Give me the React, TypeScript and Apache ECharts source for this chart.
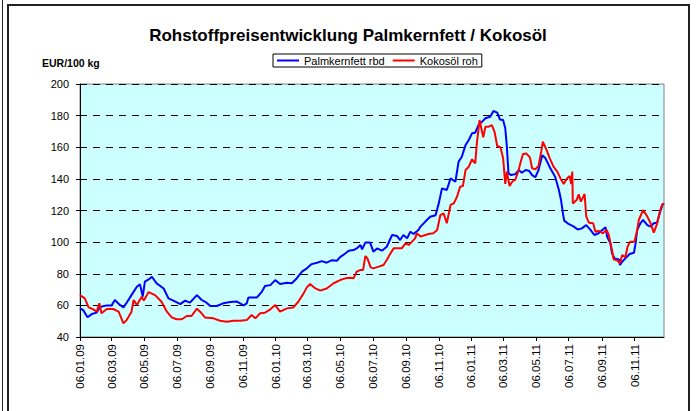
import React, { useEffect, useRef } from 'react';
import * as echarts from 'echarts';

const titleText = 'Rohstoffpreisentwicklung Palmkernfett / Kokosöl';
const unitText = 'EUR/100 kg';
const seriesNames = ['Palmkernfett rbd', 'Kokosöl roh'];

const palmDates = [
  '2009-01-06','2009-01-12','2009-01-20','2009-01-28','2009-02-06','2009-02-12','2009-02-25','2009-03-06','2009-03-12','2009-03-19',
  '2009-03-28','2009-04-03','2009-04-12','2009-04-22','2009-04-28','2009-05-03','2009-05-07','2009-05-14','2009-05-20','2009-05-29',
  '2009-06-11','2009-06-20','2009-06-29','2009-07-12','2009-07-21','2009-07-30','2009-08-12','2009-08-21','2009-08-30','2009-09-06',
  '2009-09-18','2009-09-30','2009-10-13','2009-10-25','2009-11-07','2009-11-13','2009-11-16','2009-12-02','2009-12-11','2009-12-17',
  '2009-12-27','2010-01-05','2010-01-14','2010-01-27','2010-02-05','2010-02-14','2010-02-24','2010-03-05','2010-03-14','2010-03-24',
  '2010-04-02','2010-04-11','2010-04-21','2010-04-30','2010-05-06','2010-05-12','2010-05-22','2010-05-31','2010-06-06','2010-06-13',
  '2010-06-16','2010-06-22','2010-07-01','2010-07-07','2010-07-14','2010-07-23','2010-08-01','2010-08-11','2010-08-20','2010-08-26',
  '2010-09-01','2010-09-08','2010-09-14','2010-09-20','2010-09-29','2010-10-03','2010-10-12','2010-10-21','2010-10-31','2010-11-06',
  '2010-11-12','2010-11-21','2010-11-28','2010-12-07','2010-12-13','2010-12-19','2010-12-26','2011-01-01','2011-01-07','2011-01-13',
  '2011-01-19','2011-01-26','2011-02-01','2011-02-10','2011-02-16','2011-02-23','2011-02-28','2011-03-06','2011-03-10','2011-03-13',
  '2011-03-16','2011-03-21','2011-03-29','2011-04-04','2011-04-10','2011-04-17','2011-04-23','2011-04-29','2011-05-05','2011-05-11',
  '2011-05-18','2011-05-24','2011-06-02','2011-06-11','2011-06-18','2011-06-22','2011-06-26','2011-06-28','2011-07-06','2011-07-16',
  '2011-07-23','2011-07-31','2011-08-08','2011-08-16','2011-08-23','2011-08-31','2011-09-07','2011-09-13','2011-09-16','2011-09-22',
  '2011-09-25','2011-09-30','2011-10-08','2011-10-10','2011-10-14','2011-10-20','2011-10-28','2011-11-05','2011-11-08','2011-11-11',
  '2011-11-17','2011-11-22','2011-11-30','2011-12-06','2011-12-12','2011-12-18','2011-12-23','2011-12-28','2011-12-31'
];
const palmValues = [
  58.1, 57, 52.5, 54.5, 55.4, 59, 60, 60, 63.4, 61,
  58.7, 61.7, 66.5, 71.8, 73.3, 65.5, 75, 76.4, 78.1, 73.9,
  70.7, 64.4, 63, 60.8, 63, 61.7, 66.5, 63.4, 61.7, 59.6,
  59.6, 61.3, 62.1, 62.5, 60, 61.3, 65, 65, 68.6, 72.2,
  72.8, 76, 73.5, 74.3, 74, 77, 81.3, 83.4, 86.1, 87,
  88, 87, 88.6, 88.2, 90.5, 91.9, 94.6, 95, 96, 98.2,
  95.4, 99.7, 99.7, 94, 96, 94.6, 97.1, 104.5, 103.9, 101.3,
  104.5, 102.4, 106.6, 105.1, 107.7, 109.8, 113, 116, 117, 124.5,
  134, 133, 140.3, 138.2, 150.9, 154, 161.4, 164.6, 168.8, 169.2,
  174, 176.2, 178.3, 179.3, 182.9, 181.9, 177.6, 177.2, 172, 160.4,
  143.5, 142.4, 143, 145.6, 143.9, 145.6, 145.2, 142.4, 141, 145.6,
  155, 153, 146.7, 141.4, 133, 126.6, 117.1, 113.6, 111.5, 109.8,
  108, 108.7, 110.8, 107.7, 104.5, 105.6, 107.7, 109.4, 103.4, 99.2,
  92.9, 89.7, 89.1, 85.5, 87.6, 89.7, 92.5, 93.3, 99.2, 107.7,
  111.9, 114, 110.8, 109.8, 111.9, 112.3, 118.2, 123.5, 124.5
];

const cocoDates = [
  '2009-01-06','2009-01-15','2009-01-22','2009-01-31','2009-02-06','2009-02-11','2009-02-15','2009-02-25','2009-03-09','2009-03-19',
  '2009-03-28','2009-04-03','2009-04-12','2009-04-16','2009-04-22','2009-05-01','2009-05-05','2009-05-14','2009-05-26','2009-06-07',
  '2009-06-17','2009-06-26','2009-07-05','2009-07-15','2009-07-24','2009-08-02','2009-08-12','2009-08-18','2009-08-27','2009-09-12',
  '2009-09-24','2009-10-07','2009-10-19','2009-11-01','2009-11-13','2009-11-22','2009-11-29','2009-12-08','2009-12-17','2009-12-27',
  '2010-01-05','2010-01-14','2010-01-27','2010-02-08','2010-02-17','2010-02-27','2010-03-05','2010-03-11','2010-03-21','2010-03-30',
  '2010-04-11','2010-04-24','2010-05-06','2010-05-16','2010-05-25','2010-05-31','2010-06-06','2010-06-13','2010-06-18','2010-06-22',
  '2010-06-26','2010-07-02','2010-07-07','2010-07-17','2010-07-26','2010-08-01','2010-08-08','2010-08-14','2010-08-21','2010-08-29',
  '2010-09-05','2010-09-11','2010-09-17','2010-09-23','2010-09-26','2010-10-03','2010-10-12','2010-10-18','2010-10-27','2010-11-03',
  '2010-11-09','2010-11-15','2010-11-21','2010-11-28','2010-12-04','2010-12-10','2010-12-16','2010-12-21','2010-12-26','2011-01-01',
  '2011-01-07','2011-01-13','2011-01-16','2011-01-21','2011-01-28','2011-02-01','2011-02-07','2011-02-13','2011-02-18','2011-02-23',
  '2011-03-01','2011-03-06','2011-03-10','2011-03-13','2011-03-18','2011-03-23','2011-03-29','2011-04-04','2011-04-07','2011-04-12',
  '2011-04-18','2011-04-25','2011-04-29','2011-05-05','2011-05-11','2011-05-16','2011-05-19','2011-05-26','2011-06-01','2011-06-08',
  '2011-06-15','2011-06-21','2011-06-27','2011-07-03','2011-07-08','2011-07-11','2011-07-13','2011-07-14','2011-07-21','2011-07-25',
  '2011-07-29','2011-08-05','2011-08-08','2011-08-13','2011-08-21','2011-08-25','2011-08-31','2011-09-08','2011-09-15','2011-09-19',
  '2011-09-25','2011-09-28','2011-10-05','2011-10-10','2011-10-14','2011-10-20','2011-10-24','2011-10-29','2011-11-06','2011-11-11',
  '2011-11-14','2011-11-22','2011-11-30','2011-12-06','2011-12-12','2011-12-18','2011-12-24','2011-12-28','2011-12-31'
];
const cocoValues = [
  66.5, 64.4, 58.7, 57.5, 56, 61.3, 55, 57.7, 57.7, 56,
  48.6, 50.7, 56, 63.4, 60.2, 65.5, 63, 68.4, 66.5, 62.3,
  56, 52.4, 51.2, 51.2, 53.3, 53.3, 57.9, 56, 52.4, 51.8,
  50.3, 49.7, 50.3, 50.3, 50.7, 53.9, 51.8, 55, 55.4, 57.5,
  60.2, 56, 58.1, 58.7, 62.3, 67.6, 71.4, 73.5, 70.7, 69.3,
  70.7, 74, 76, 77.1, 77.5, 77.1, 81.3, 82.4, 82.4, 91.2,
  89.7, 84, 83.4, 84.5, 85.5, 88.7, 92.9, 96.1, 96.1, 96.1,
  99.2, 98.2, 100.3, 102.4, 105.6, 103.5, 104.5, 105.1, 105.6, 107.7,
  117.1, 118.2, 111.9, 123.5, 124.5, 128.7, 135.1, 135.5, 145.6, 147.7,
  152.4, 149.8, 162.5, 177.2, 166.3, 173, 173, 174, 169.8, 160.8,
  160, 153, 136.8, 144.6, 135.5, 138.2, 139.7, 145.6, 149.8, 155.7,
  156.1, 153.6, 146.7, 146, 148.1, 157.2, 163.5, 158.3, 153, 147.7,
  144.6, 140.3, 136.8, 140.3, 141.8, 136.8, 144.6, 124.5, 126.6, 130.2,
  125.6, 130.4, 116.1, 112.3, 111.9, 106.6, 107.2, 105.6, 107.7, 104.5,
  95, 89.1, 88.3, 86.6, 91.9, 90.4, 97.1, 100.3, 100.3, 107.7,
  114, 120.3, 116.1, 111.9, 106, 111.5, 120.3, 124.1, 124.1
];

const xTickDates = [
  '2009-01-06','2009-03-06','2009-05-06','2009-07-06','2009-09-06','2009-11-06',
  '2010-01-06','2010-03-06','2010-05-06','2010-07-06','2010-09-06','2010-11-06',
  '2011-01-06','2011-03-06','2011-05-06','2011-07-06','2011-09-06','2011-11-06'
];
const xMin = '2009-01-06';
const xMax = '2011-12-31';
const yMin = 40;
const yMax = 200;
const yStep = 20;

const FONT = '"Liberation Sans", Arial, sans-serif';

function toTime(s: string): number {
  const [y, m, d] = s.split('-').map(Number);
  return Date.UTC(y, m - 1, d);
}
function pad(n: number): string {
  return n < 10 ? '0' + n : String(n);
}
function fmtDate(v: number): string {
  const d = new Date(v);
  return pad(d.getUTCDate()) + '.' + pad(d.getUTCMonth() + 1) + '.' + String(d.getUTCFullYear()).slice(2);
}

export default function App() {
  const ref = useRef<HTMLDivElement>(null);
  useEffect(() => {
    const chart = echarts.init(ref.current!, null, { renderer: 'svg' });
    const ticks = xTickDates.map(toTime);
    chart.setOption({
      animation: false,
      backgroundColor: '#ffffff',
      textStyle: { fontFamily: FONT },
      title: {
        text: titleText,
        left: 'center',
        top: 22,
        textStyle: { fontFamily: FONT, fontSize: 17, fontWeight: 'bold', color: '#000' }
      },
      legend: {
        data: seriesNames,
        top: 54,
        left: 273,
        icon: 'rect',
        itemWidth: 22,
        itemHeight: 2,
        itemGap: 8,
        padding: [1, 4, 1, 4],
        borderColor: '#000',
        borderWidth: 1,
        backgroundColor: '#fff',
        textStyle: { fontFamily: FONT, fontSize: 11, color: '#000' }
      },
      graphic: [
        { type: 'line', shape: { x1: 2.5, y1: 0, x2: 2.5, y2: 411 }, style: { stroke: '#222', lineWidth: 1 } },
        { type: 'rect', shape: { x: 8, y: 5, width: 681, height: 420 }, style: { fill: 'none', stroke: '#222', lineWidth: 2 } },
        {
          type: 'text', left: 42, top: 57,
          style: { text: unitText, font: 'bold 10.5px ' + FONT, fill: '#000' }
        }
      ],
      grid: {
        left: 80, right: 32, top: 84, bottom: 74,
        show: true,
        backgroundColor: '#CCFFFF',
        borderColor: '#808080',
        borderWidth: 1
      },
      xAxis: {
        type: 'value',
        min: toTime(xMin),
        max: toTime(xMax),
        axisLine: { show: true, lineStyle: { color: '#000', width: 1 } },
        axisTick: { show: true, length: 4, inside: false, customValues: ticks, lineStyle: { color: '#000' } },
        axisLabel: {
          customValues: ticks,
          rotate: 90,
          margin: 7,
          fontSize: 11.5,
          color: '#000',
          fontFamily: FONT,
          formatter: (v: number) => fmtDate(v)
        },
        splitLine: { show: false }
      },
      yAxis: {
        type: 'value',
        min: yMin,
        max: yMax,
        interval: yStep,
        axisLine: { show: true, lineStyle: { color: '#000', width: 1 } },
        axisTick: { show: true, length: 4, inside: false, lineStyle: { color: '#000' } },
        axisLabel: { fontSize: 11, color: '#000', margin: 11, fontFamily: FONT },
        splitLine: { show: true, lineStyle: { color: '#000', type: [7, 6], width: 1 } }
      },
      series: [
        {
          name: seriesNames[0],
          type: 'line',
          data: palmDates.map((d, i) => [toTime(d), palmValues[i]]),
          symbol: 'none',
          showSymbol: false,
          color: '#0000FF',
          lineStyle: { color: '#0000FF', width: 2 }
        },
        {
          name: seriesNames[1],
          type: 'line',
          data: cocoDates.map((d, i) => [toTime(d), cocoValues[i]]),
          symbol: 'none',
          showSymbol: false,
          color: '#FF0000',
          lineStyle: { color: '#FF0000', width: 2 }
        }
      ]
    });
    return () => chart.dispose();
  }, []);
  return (
    <div
      ref={ref}
      style={{ position: 'fixed', left: 0, top: 0, width: 696, height: 411, background: '#fff' }}
    />
  );
}
